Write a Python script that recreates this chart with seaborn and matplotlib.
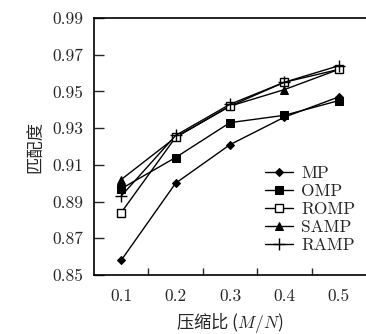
import matplotlib
matplotlib.use("Agg")
import matplotlib.pyplot as plt
import seaborn as sns
import pandas as pd
from matplotlib.ticker import FixedLocator, FormatStrFormatter

ratios = [0.1, 0.2, 0.3, 0.4, 0.5]
mp = [0.858, 0.900, 0.921, 0.936, 0.947]
omp = [0.897, 0.914, 0.933, 0.937, 0.945]
romp = [0.884, 0.925, 0.942, 0.955, 0.962]
samp = [0.902, 0.925, 0.942, 0.951, 0.962]
ramp = [0.893, 0.926, 0.943, 0.955, 0.964]
series_names = ["MP", "OMP", "ROMP", "SAMP", "RAMP"]
yticks = [0.85, 0.87, 0.89, 0.91, 0.93, 0.95, 0.97, 0.99]

sns.set_style("ticks")
plt.rcParams["font.family"] = ["cmr10", "Noto Sans CJK SC", "DejaVu Sans"]
plt.rcParams["mathtext.fontset"] = "cm"
plt.rcParams["axes.formatter.use_mathtext"] = True
plt.rcParams["axes.unicode_minus"] = False

fig = plt.figure(figsize=(3.66, 3.34), dpi=100)
ax = fig.add_axes([94 / 366, 1 - 275 / 334, 1 - 94 / 366, (275 - 18) / 334])

styles = {
    "MP": dict(marker="D", markersize=4.5, markerfacecolor="black", zorder=3),
    "OMP": dict(marker="s", markersize=5.5, markerfacecolor="black", zorder=3),
    "ROMP": dict(marker="s", markersize=6, markerfacecolor="white", markeredgewidth=1.0, zorder=5),
    "SAMP": dict(marker="^", markersize=6, markerfacecolor="black", zorder=4),
    "RAMP": dict(marker="+", markersize=9, markeredgewidth=1.0, zorder=6),
}
values = {"MP": mp, "OMP": omp, "ROMP": romp, "SAMP": samp, "RAMP": ramp}

for name in series_names:
    df = pd.DataFrame({"ratio": ratios, "val": values[name]})
    sns.lineplot(data=df, x="ratio", y="val", ax=ax, color="black", linewidth=1.0,
                 markeredgecolor="black", label=name, **styles[name])

ax.set_xlim(0.05, 0.55)
ax.set_ylim(0.85, 0.99)
ax.set_xticks(ratios)
ax.set_xticklabels([f"{r:.1f}" for r in ratios])
ax.tick_params(axis="x", which="major", length=0, pad=10, labelsize=12.5)
ax.xaxis.set_minor_locator(FixedLocator([0.15, 0.25, 0.35, 0.45]))
ax.tick_params(axis="x", which="minor", direction="in", length=5, width=1, bottom=True)
ax.set_yticks(yticks)
ax.yaxis.set_major_formatter(FormatStrFormatter("%.2f"))
ax.tick_params(axis="y", direction="in", length=7, width=1, labelsize=12.5, pad=8)

for s in ["left", "bottom", "top"]:
    ax.spines[s].set_linewidth(1.2)
    ax.spines[s].set_color("black")
ax.spines["right"].set_visible(False)

ax.set_xlabel("压缩比 ($M/N$)", fontsize=12.5, labelpad=4,
              family=["Noto Sans CJK SC", "DejaVu Sans"])
ax.set_ylabel("匹配度", fontsize=12.5, labelpad=6)

leg = ax.legend(loc="lower right", bbox_to_anchor=(1.0, 0.045), frameon=False,
                fontsize=12.5, handlelength=1.6, handletextpad=0.5, labelspacing=0.15,
                borderaxespad=0.2)

fig.savefig("out.png", dpi=100)
